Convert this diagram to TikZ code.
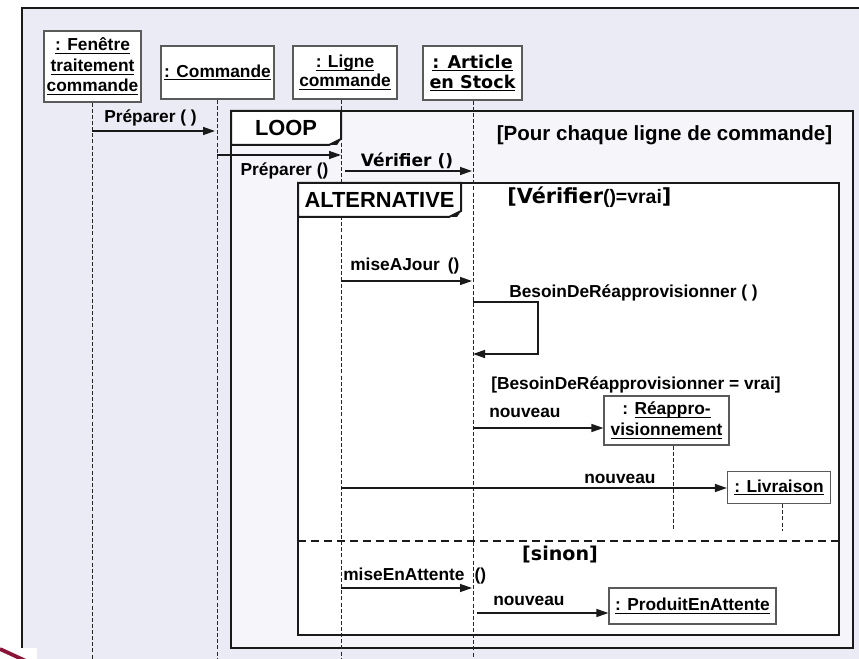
\documentclass[tikz,border=0pt]{standalone}
\usepackage{fontspec}
\setmainfont{Liberation Sans}
\newfontfamily\dvs{DejaVu Sans}
\usetikzlibrary{arrows.meta}

\definecolor{pagebg}{HTML}{EBEBF5}
\definecolor{loopbg}{HTML}{F5F5FA}
\definecolor{boxline}{HTML}{5A5A5A}
\definecolor{inkline}{HTML}{1A1A1A}
\definecolor{markred}{HTML}{8A1538}

% underline at a fixed depth below the baseline
\newsavebox\ulbox
\newcommand\uln[1]{\sbox\ulbox{#1}\rlap{\rule[-2.4pt]{\wd\ulbox}{0.8pt}}\usebox\ulbox}

\tikzset{
  lbl/.style={font=\bfseries\fontsize{13}{15.5}\selectfont, inner sep=0pt,
              text height=9.4pt, text depth=2.6pt},
  objbox/.style={draw=boxline, fill=white, line width=0.9pt, inner sep=0pt,
                 align=center, font=\bfseries\fontsize{13}{15.4}\selectfont},
  msg/.style={draw=inkline, line width=1pt, -{Triangle[length=9pt,width=6pt]}},
  lifeline/.style={draw=black!85, line width=0.75pt, dash pattern=on 3pt off 1.6pt},
  frameline/.style={draw=inkline, line width=1.5pt},
  tabtext/.style={font=\bfseries\fontsize{16.4}{18}\selectfont, inner sep=0pt}
}

\begin{document}
\begin{tikzpicture}[x=0.75pt,y=-0.75pt]
\useasboundingbox (0,0) rectangle (859,659);
\clip (0,0) rectangle (859,659);
\fill[white] (0,0) rectangle (859,659);

% outer diagram frame
\draw[frameline, fill=pagebg] (22,8) rectangle (900,700);

% combined fragments
\draw[frameline, fill=loopbg] (231,111) rectangle (853,648);
\draw[frameline, fill=white] (298,183) rectangle (839,635);
\draw[frameline, dash pattern=on 6pt off 3.75pt] (298,541) -- (839,541);

% participants
\node (fen) [objbox, minimum width=72.75pt, minimum height=53.25pt] at (92.5,66.5)
  {\uln{: Fenêtre}\\\uln{traitement}\\\uln{commande}};
\node (cmd) [objbox, minimum width=84.75pt, minimum height=39.75pt] at (217.5,72.5)
  {\uln{: Commande}};
\node (lig) [objbox, minimum width=78pt, minimum height=39.75pt,
             font=\bfseries\fontsize{13}{13.8}\selectfont] at (345,72.5)
  {\uln{: Ligne}\\\uln{commande}};
\node (art) [objbox, minimum width=74.25pt, minimum height=40.5pt,
             font=\dvs\bfseries\fontsize{13.2}{15}\selectfont] at (472.5,73)
  {\uln{: Article}\\\uln{en Stock}};

% lifelines
\coordinate (fenEnd) at (92,659);
\coordinate (cmdEnd) at (217,659);
\coordinate (ligEnd) at (341,659);
\coordinate (artEnd) at (473,659);
\draw[lifeline] (fenEnd |- fen.south) -- (fenEnd);
\draw[lifeline] (cmdEnd |- cmd.south) -- (cmdEnd);
\draw[lifeline] (ligEnd |- lig.south) -- (ligEnd);
\draw[lifeline] (artEnd |- art.south) -- (artEnd);

% fragment tabs
\node (loopTab) [draw=none, minimum width=82.5pt, minimum height=25.5pt, inner sep=0pt] at (286,128) {};
\draw[frameline, fill=white] (231,111) -- (341,111) -- (341,139) -- (329,145) -- (231,145) -- cycle;
\fill[inkline] (329,145) -- (341,139) -- (337,145) -- cycle;
\node[tabtext] (loopLbl) at (loopTab) {LOOP};

\node (altTab) [draw=none, minimum width=122pt, minimum height=25.5pt, inner sep=0pt] at (379.5,200) {};
\draw[frameline, fill=white] (298,183) -- (461,183) -- (461,211) -- (449,217) -- (298,217) -- cycle;
\fill[inkline] (449,217) -- (461,211) -- (457,217) -- cycle;
\node[tabtext] (altLbl) at (altTab) {ALTERNATIVE};

% guards
\node[lbl, font=\bfseries\fontsize{15.4}{17}\selectfont, anchor=center] (gLoop) at (664.5,136)
  {[Pour chaque ligne de commande]};
\node[lbl, anchor=west] (gAlt) at (507,199)
  {{\dvs\fontsize{15.6}{17}\selectfont[Vérifier}{\fontsize{14.6}{16}\selectfont()=vrai}{\dvs\fontsize{15.6}{17}\selectfont]}};
\node[lbl, anchor=west] (gBesoin) at (491,385) {[BesoinDeRéapprovisionner = vrai]};
\node[lbl, font=\dvs\bfseries\fontsize{14.3}{16}\selectfont, anchor=center] (gSinon) at (560,556) {[sinon]};

% created participants
\node (rea) [objbox, minimum width=93.75pt, minimum height=36.75pt,
             font=\bfseries\fontsize{13}{15.6}\selectfont] at (666.5,420.5)
  {: \uln{Réappro-}\\\uln{visionnement}};
\node (liv) [objbox, minimum width=77.25pt, minimum height=24pt] at (779,487.5)
  {\uln{: Livraison}};
\node (pea) [objbox, minimum width=125.25pt, minimum height=27pt] at (692.5,606)
  {\uln{: ProduitEnAttente}};
\coordinate (reaEnd) at (673,531);
\coordinate (livEnd) at (782,531);
\draw[lifeline] (reaEnd |- rea.south) -- (reaEnd);
\draw[lifeline] (livEnd |- liv.south) -- (livEnd);

% messages
\coordinate (m1s) at (92,131);  \coordinate (m1e) at (215,131);
\draw[msg] (m1s) -- (m1e);
\node[lbl, anchor=center] (t1) at (150.5,118) {Préparer ( )};

\coordinate (m2s) at (217,155); \coordinate (m2e) at (341,155);
\draw[msg] (m2s) -- (m2e);
\node[lbl, anchor=center] (t2) at (284.5,171) {Préparer ()};

\coordinate (m3s) at (345,171); \coordinate (m3e) at (472,171);
\draw[msg] (m3s) -- (m3e);
\node[lbl, font=\dvs\bfseries\fontsize{12.8}{15}\selectfont, anchor=center] (t3) at (407,162) {Vérifier ()};

\coordinate (m4s) at (341,281); \coordinate (m4e) at (472,281);
\draw[msg] (m4s) -- (m4e);
\node[lbl, anchor=west] (t4) at (350,266) {miseAJour\hspace{6pt}()};

\coordinate (m5s) at (473,302); \coordinate (m5e) at (473,354);
\draw[msg] (m5s) -- (538,302) -- (538,354) -- (m5e);
\node[lbl, anchor=west] (t5) at (509,293) {BesoinDeRéapprovisionner ( )};

\coordinate (m6s) at (473,428);
\draw[msg] (m6s) -- (m6s -| rea.west);
\node[lbl, anchor=west] (t6) at (489,413) {nouveau};

\coordinate (m7s) at (341,488);
\draw[msg] (m7s) -- (m7s -| liv.west);
\node[lbl, anchor=west] (t7) at (584,479) {nouveau};

\coordinate (m8s) at (341,588); \coordinate (m8e) at (472,588);
\draw[msg] (m8s) -- (m8e);
\node[lbl, anchor=west] (t8) at (343,576) {miseEnAttente\hspace{7.5pt}()};

\coordinate (m9s) at (477,613);
\draw[msg] (m9s) -- (m9s -| pea.west);
\node[lbl, anchor=west] (t9) at (493,601) {nouveau};

% corner mark at the bottom left
\fill[white] (0,648) rectangle (37,659);
\draw[markred, line width=2.8pt] (0,649) -- (26,661);
\end{tikzpicture}
\end{document}
